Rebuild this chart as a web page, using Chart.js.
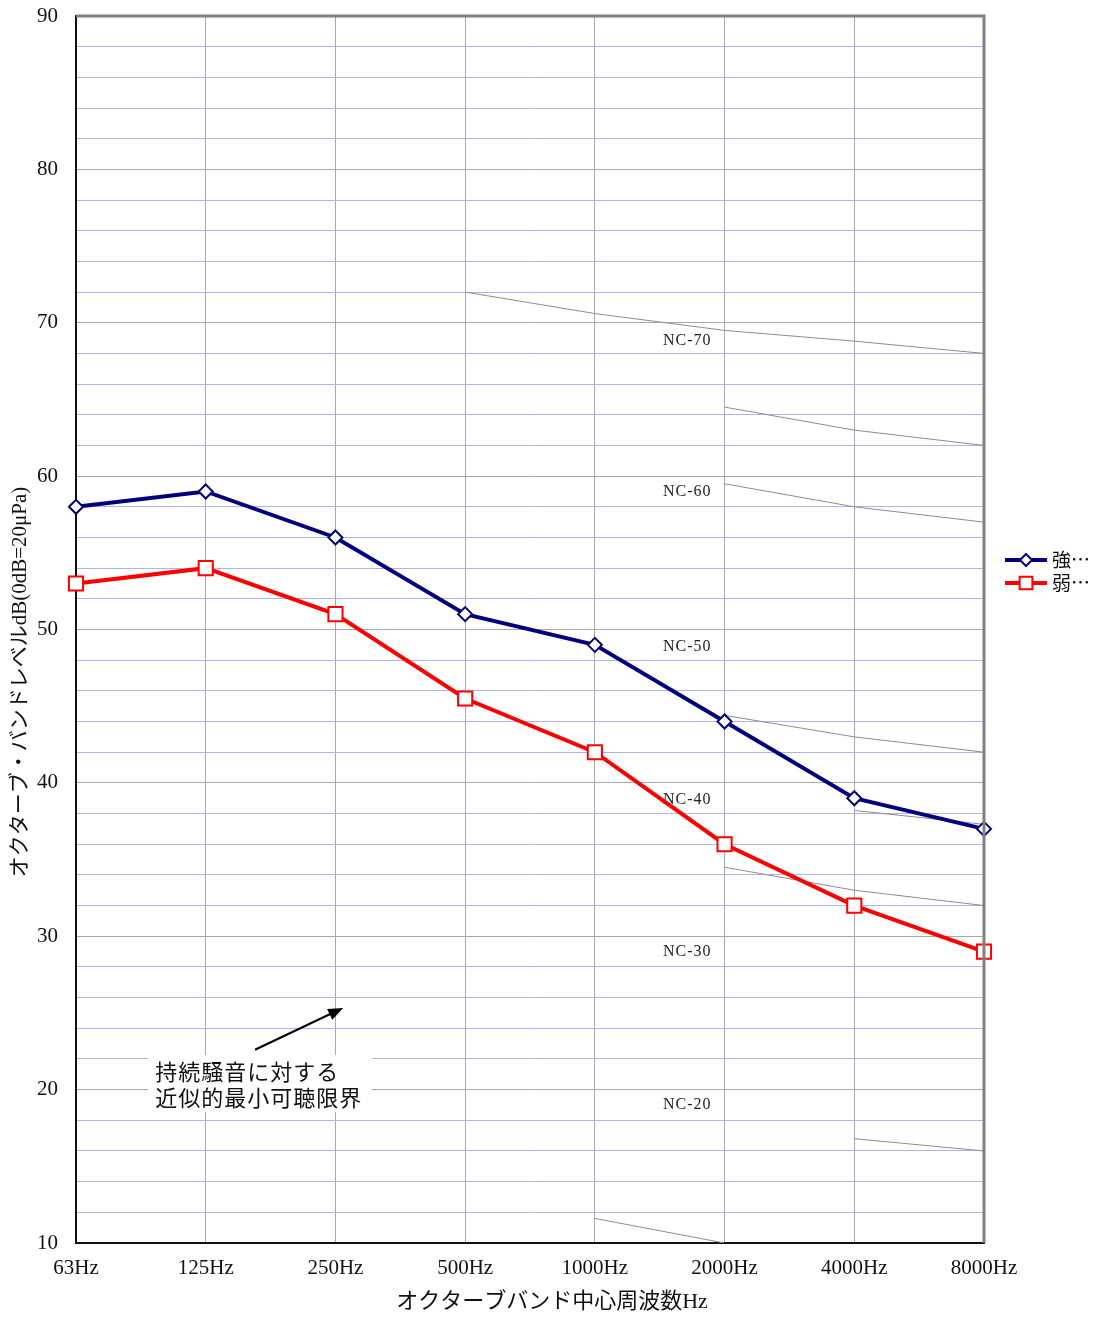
<!DOCTYPE html>
<html>
<head>
<meta charset="utf-8">
<script src="https://cdn.jsdelivr.net/npm/chart.js@4.4.1/dist/chart.umd.min.js"></script>
<style>
  html, body { margin: 0; padding: 0; background: #fff; }
  #wrap { width: 1099px; height: 1317px; }
</style>
</head>
<body>
<div id="wrap"><canvas id="chart"></canvas></div>
<script>
const bands = ["63Hz", "125Hz", "250Hz", "500Hz", "1000Hz", "2000Hz", "4000Hz", "8000Hz"];
const strong = [58, 59, 56, 51, 49, 44, 39, 37];
const weak = [53, 54, 51, 45.5, 42, 36, 32, 29];

// pieces of the NC reference curves that show inside the plot
const nc70 = [null, null, null, 72, 70.6, 69.5, 68.8, 68];
const nc65 = [null, null, null, null, null, 64.5, 63, 62];
const nc60 = [null, null, null, null, null, 59.5, 58, 57];
const nc45 = [null, null, null, null, null, 44.4, 43, 42];
const nc40 = [null, null, null, null, null, null, 38.2, 37.3];
const nc35 = [null, null, null, null, null, 34.5, 33, 32];
const nc20 = [null, null, null, null, null, null, 16.8, 16];
const nc10 = [null, null, null, null, 11.6, 10, null, null];

const ncNames = ["NC-70", "NC-60", "NC-50", "NC-40", "NC-30", "NC-20"];
const ncLabelLevels = [68.8, 59.0, 48.9, 38.9, 29.0, 19.0];
const ncLabelIndex = 4.9;

const noteLines = ["持続騒音に対する", "近似的最小可聴限界"];

const SERIF = "'Liberation Serif', 'Noto Sans CJK JP', serif";
const JP = "'Noto Sans CJK JP', sans-serif";

const ncLine = (data) => ({
  data,
  borderColor: "#8c8c8c",
  borderWidth: 1,
  pointRadius: 0,
  spanGaps: false,
  isNC: true,
});

const notes = {
  id: "notes",
  beforeDatasetsDraw(chart) {
    const { ctx, scales: { x, y } } = chart;
    ctx.save();

    // NC labels
    ctx.font = "16px " + SERIF;
    ctx.letterSpacing = "1px";
    ctx.fillStyle = "#222";
    ctx.textAlign = "right";
    ctx.textBaseline = "middle";
    ncNames.forEach((name, i) => {
      ctx.fillText(name, x.getPixelForValue(ncLabelIndex), y.getPixelForValue(ncLabelLevels[i]));
    });
    ctx.letterSpacing = "0px";

    // threshold note with white box
    const bx0 = x.getPixelForValue(0.555), bx1 = x.getPixelForValue(2.28);
    const by0 = y.getPixelForValue(22.27), by1 = y.getPixelForValue(18.55);
    ctx.fillStyle = "#fff";
    ctx.fillRect(bx0, by0, bx1 - bx0, by1 - by0);

    ctx.font = "22px " + JP;
    ctx.letterSpacing = "1px";
    ctx.fillStyle = "#111";
    ctx.textAlign = "left";
    ctx.fillText(noteLines[0], x.getPixelForValue(0.61), y.getPixelForValue(21.2));
    ctx.fillText(noteLines[1], x.getPixelForValue(0.61), y.getPixelForValue(19.5));
    ctx.letterSpacing = "0px";

    // arrow
    const tx = x.getPixelForValue(2.06), ty = y.getPixelForValue(25.33);
    const sx = x.getPixelForValue(1.38), sy = y.getPixelForValue(22.6);
    const ang = Math.atan2(ty - sy, tx - sx);
    const head = 15;
    ctx.strokeStyle = "#000";
    ctx.lineWidth = 2;
    ctx.beginPath();
    ctx.moveTo(sx, sy);
    ctx.lineTo(tx - Math.cos(ang) * head * 0.8, ty - Math.sin(ang) * head * 0.8);
    ctx.stroke();
    ctx.fillStyle = "#000";
    ctx.beginPath();
    ctx.moveTo(tx, ty);
    ctx.lineTo(tx - head * Math.cos(ang) + 6 * Math.sin(ang), ty - head * Math.sin(ang) - 6 * Math.cos(ang));
    ctx.lineTo(tx - head * Math.cos(ang) - 6 * Math.sin(ang), ty - head * Math.sin(ang) + 6 * Math.cos(ang));
    ctx.closePath();
    ctx.fill();
    ctx.restore();
  },
  afterDraw(chart) {
    const { ctx, chartArea: a } = chart;
    ctx.save();
    // top and right frame
    ctx.strokeStyle = "#808080";
    ctx.lineWidth = 3;
    ctx.beginPath();
    ctx.moveTo(a.left, a.top);
    ctx.lineTo(a.right, a.top);
    ctx.lineTo(a.right, a.bottom);
    ctx.stroke();

    // legend: line + marker + label
    const lx = a.right + 21;
    let ly = 560;
    chart.data.datasets.filter((d) => !d.isNC).forEach((d) => {
      ctx.strokeStyle = d.borderColor;
      ctx.lineWidth = d.borderWidth;
      ctx.beginPath();
      ctx.moveTo(lx, ly);
      ctx.lineTo(lx + 42, ly);
      ctx.stroke();
      ctx.fillStyle = d.pointBackgroundColor;
      ctx.strokeStyle = d.pointBorderColor;
      ctx.lineWidth = d.pointBorderWidth;
      Chart.helpers.drawPoint(ctx, {
        pointStyle: d.pointStyle,
        radius: d.legendRadius,
        borderWidth: d.pointBorderWidth,
        rotation: 0,
      }, lx + 21, ly);
      ctx.fillStyle = "#111";
      ctx.font = "19px " + JP;
      ctx.textAlign = "left";
      ctx.textBaseline = "middle";
      ctx.fillText(d.label, lx + 47, ly);
      ly += 23;
    });
    ctx.restore();
  },
};

new Chart(document.getElementById("chart"), {
  type: "line",
  data: {
    labels: bands,
    datasets: [
      {
        label: "強…",
        data: strong,
        borderColor: "#000080",
        borderWidth: 4,
        pointStyle: "rectRot",
        pointRadius: 7,
        legendRadius: 6,
        pointBackgroundColor: "#fff",
        pointBorderColor: "#000080",
        pointBorderWidth: 2,
      },
      {
        label: "弱…",
        data: weak,
        borderColor: "#ff0000",
        borderWidth: 4,
        pointStyle: "rect",
        pointRadius: 10,
        legendRadius: 9,
        pointBackgroundColor: "#fff",
        pointBorderColor: "#ff0000",
        pointBorderWidth: 2,
      },
      ncLine(nc70), ncLine(nc65), ncLine(nc60), ncLine(nc45),
      ncLine(nc40), ncLine(nc35), ncLine(nc20), ncLine(nc10),
    ],
  },
  options: {
    responsive: true,
    maintainAspectRatio: false,
    animation: false,
    layout: { padding: { left: 0, right: 115, top: 16, bottom: 0 } },
    plugins: { legend: { display: false }, tooltip: { enabled: false } },
    scales: {
      x: {
        offset: false,
        afterFit: (s) => { s.height = 74; },
        grid: { color: "#a8a8a8", drawTicks: false },
        border: { color: "#111", width: 2 },
        ticks: { padding: 13, color: "#111", font: { family: SERIF, size: 21 }, maxRotation: 0 },
        title: {
          display: true,
          text: "\u3000\u3000オクターブバンド中心周波数Hz",
          color: "#111",
          font: { family: SERIF, size: 22 },
          padding: { top: 0, bottom: 2 },
        },
      },
      y: {
        min: 10,
        max: 90,
        afterFit: (s) => { s.width = 76; s.paddingTop = 0; s.paddingBottom = 0; },
        grid: {
          color: (c) => (c.index % 5 === 0 ? "#a8a8a8" : "#b0b0f4"),
          drawTicks: false,
        },
        border: { color: "#111", width: 2 },
        ticks: {
          stepSize: 2,
          maxTicksLimit: 100,
          autoSkip: false,
          padding: 18,
          color: "#111",
          font: { family: SERIF, size: 21 },
          callback: (v) => (v % 10 === 0 ? v : ""),
        },
        title: {
          display: true,
          text: "オクターブ・バンドレベルdB(0dB=20μPa)\u3000\u3000\u3000\u3000\u3000",
          color: "#111",
          font: { family: SERIF, size: 21 },
          padding: { top: 8, bottom: 0 },
        },
      },
    },
  },
  plugins: [notes],
});
</script>
</body>
</html>
